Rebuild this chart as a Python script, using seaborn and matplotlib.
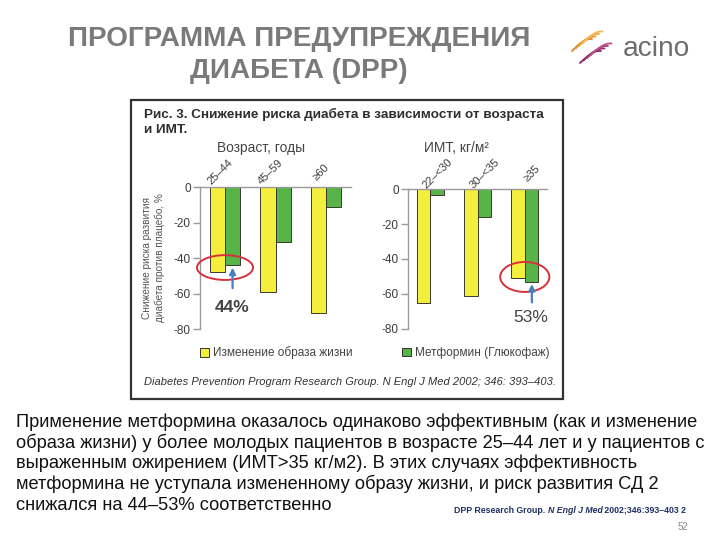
import numpy as np
import pandas as pd
import matplotlib
matplotlib.use("Agg")
import matplotlib.pyplot as plt
import seaborn as sns
from matplotlib.patches import Ellipse, Rectangle, Patch

# ---------------- data ----------------
age_groups = ["25–44", "45–59", "≥60"]
age_lifestyle = [-48, -59, -71]
age_metformin = [-44, -31, -11]

bmi_groups = ["22–<30", "30–<35", "≥35"]
bmi_lifestyle = [-65, -61, -51]
bmi_metformin = [-3, -16, -53]

treatments = ["Изменение образа жизни", "Метформин (Глюкофаж)"]
yticks = [0, -20, -40, -60, -80]
ytick_labels = ["0", "-20", "-40", "-60", "-80"]

body_lines = [
    "Применение метформина оказалось одинаково эффективным (как и изменение",
    "образа жизни) у более молодых пациентов в возрасте 25–44 лет и у пациентов с",
    "выраженным ожирением (ИМТ>35 кг/м2). В этих случаях эффективность",
    "метформина не уступала измененному образу жизни, и риск развития СД 2",
    "снижался на 44–53% соответственно",
]

# ---------------- style ----------------
sns.set_style("white")
FONT = ["Liberation Sans", "DejaVu Sans"]
plt.rcParams["font.family"] = FONT

YELLOW = "#f4ee3c"
GREEN = "#58b446"
EDGE = "#3a3a30"
AXC = "#9a9a9a"
TXT = "#3c3c3c"

W, H = 720, 540
fig = plt.figure(figsize=(W / 100, H / 100), dpi=100)
fig.patch.set_facecolor("white")

ov = fig.add_axes([0, 0, 1, 1], zorder=-1)
ov.set_xlim(0, W)
ov.set_ylim(H, 0)
ov.axis("off")

renderer = fig.canvas.get_renderer()


def fit_w(t, target):
    w = t.get_window_extent(renderer).width
    t.set_fontsize(t.get_fontsize() * target / w)
    return t


def fit_h(t, target):
    h = t.get_window_extent(renderer).height
    t.set_fontsize(t.get_fontsize() * target / h)
    return t


def make_df(groups, a, b):
    return pd.DataFrame({
        "group": groups * 2,
        "value": list(a) + list(b),
        "treatment": [treatments[0]] * len(groups) + [treatments[1]] * len(groups),
    })


def panel(rect, groups, a, b, xlim, width):
    ax = fig.add_axes(rect)
    df = make_df(groups, a, b)
    sns.barplot(data=df, x="group", y="value", hue="treatment",
                palette=[YELLOW, GREEN], saturation=1, width=width,
                edgecolor=EDGE, linewidth=0.7, ax=ax, legend=False,
                errorbar=None)
    ax.set_xlim(*xlim)
    ax.set_ylim(-80, 0)
    ax.set_facecolor("none")
    for s in ["bottom", "right"]:
        ax.spines[s].set_visible(False)
    for s in ["top", "left"]:
        ax.spines[s].set_color(AXC)
        ax.spines[s].set_linewidth(1.0)
    ax.set_xticks([])
    ax.set_xlabel("")
    ax.set_ylabel("")
    ax.set_yticks(yticks)
    ax.set_yticklabels(ytick_labels)
    ax.tick_params(axis="y", length=5, width=1, color=AXC, pad=1.5,
                   labelsize=8.5, labelcolor=TXT, left=True)
    return ax


axL = panel([199.75 / W, 1 - 329 / H, 151.5 / W, 141.7 / H],
            age_groups, age_lifestyle, age_metformin, (-0.5, 2.5), 0.6)
axR = panel([408 / W, 1 - 328.7 / H, 139 / W, 139.4 / H],
            bmi_groups, bmi_lifestyle, bmi_metformin, (-0.47, 2.47), 0.57)

for i, g in enumerate(age_groups):
    axL.text(i - 0.1, 8.5, g, rotation=45, ha="center", va="center",
             fontsize=8, color=TXT, clip_on=False)
for i, g in enumerate(bmi_groups):
    axR.text(i + 0.15, 9.0, g, rotation=45, ha="center", va="center",
             fontsize=8, color=TXT, clip_on=False)

axL.add_patch(Ellipse((0.0, -45.3), 1.11, 14, fill=False, edgecolor="#d8313b",
                      lw=1.4, clip_on=False, zorder=5))
axL.annotate("", xy=(0.15, -43.8), xytext=(0.15, -58.5),
             arrowprops=dict(arrowstyle="-|>", color="#4a7ebf", lw=1.6,
                             mutation_scale=9), annotation_clip=False, zorder=6)
axL.text(0.15, -67.6, "44%", ha="center", va="center", fontsize=12.5,
         fontweight="bold", color="#444444")

axR.add_patch(Ellipse((2.0, -50.3), 1.04, 17.2, fill=False, edgecolor="#d8313b",
                      lw=1.4, clip_on=False, zorder=5))
axR.annotate("", xy=(2.15, -52.8), xytext=(2.15, -66.5),
             arrowprops=dict(arrowstyle="-|>", color="#4a7ebf", lw=1.6,
                             mutation_scale=9), annotation_clip=False, zorder=6)
axR.text(2.12, -73.5, "53%", ha="center", va="center", fontsize=12.5,
         color="#444444")

# ---------------- chart image frame & texts ----------------
ov.add_patch(Rectangle((131, 100), 432, 299, fill=False, edgecolor="#333333", lw=1.6))

t = ov.text(144, 118, "Рис. 3. Снижение риска диабета в зависимости от возраста",
            ha="left", va="baseline", fontweight="bold", color="#2e2e2e", fontsize=9.5)
fit_w(t, 398)
ov.text(144, 133, "и ИМТ.", ha="left", va="baseline", fontweight="bold",
        color="#2e2e2e", fontsize=t.get_fontsize())

th = ov.text(261, 152, "Возраст, годы", ha="center", va="baseline",
             color="#444444", fontsize=9.5)
fit_w(th, 88)
ov.text(456, 152, "ИМТ, кг/м²", ha="center", va="baseline",
        color="#444444", fontsize=th.get_fontsize())

yl1 = ov.text(147, 258, "Снижение риска развития", rotation=90, ha="center",
              va="center", color="#555555", fontsize=7.5)
yl2 = ov.text(160, 258, "диабета против плацебо, %", rotation=90, ha="center",
              va="center", color="#555555", fontsize=7.5)
fit_h(yl2, 128)
yl1.set_fontsize(yl2.get_fontsize())

leg_kw = dict(frameon=False, fontsize=8.5, handlelength=0.75, handleheight=0.75,
              handletextpad=0.35, borderpad=0, borderaxespad=0, loc="center left",
              labelcolor="#444444")
fig.legend(handles=[Patch(facecolor=YELLOW, edgecolor="#333333", lw=0.7)],
           labels=[treatments[0]], bbox_to_anchor=(200 / W, 1 - 353 / H), **leg_kw)
fig.legend(handles=[Patch(facecolor=GREEN, edgecolor="#333333", lw=0.7)],
           labels=[treatments[1]], bbox_to_anchor=(402 / W, 1 - 353 / H), **leg_kw)

tc = ov.text(144, 385, "Diabetes Prevention Program Research Group. N Engl J Med 2002; 346: 393–403.",
             ha="left", va="baseline", style="italic", color="#333333", fontsize=8.5)
fit_w(tc, 406)

# ---------------- slide title ----------------
t1 = ov.text(299, 46, "ПРОГРАММА ПРЕДУПРЕЖДЕНИЯ", ha="center", va="baseline",
             fontweight="bold", color="#7a7a7a", fontsize=21)
fit_w(t1, 462)
ov.text(299, 78, "ДИАБЕТА (DPP)", ha="center", va="baseline",
        fontweight="bold", color="#7a7a7a", fontsize=t1.get_fontsize())

# ---------------- logo ----------------
tl = ov.text(623, 56, "acino", ha="left", va="baseline", color="#6e6e6e", fontsize=19)
fit_w(tl, 67)
s = np.linspace(0, 1, 30)
for k in range(4):
    xo = 572 + 3.5 * k + 20 * s
    yo = 51 - 2.5 * k - 14 * np.sin(s * np.pi / 2) + 2 * s
    ov.plot(xo, yo, color=["#d9822a", "#e6952f", "#eea83f", "#f3bb55"][k],
            lw=1.3, solid_capstyle="round")
    xp = 580 + 3.5 * k + 21 * s
    yp = 63 - 2.5 * k - 14 * np.sin(s * np.pi / 2) + 2 * s
    ov.plot(xp, yp, color=["#86245f", "#962c6c", "#a83a7b", "#ba508c"][k],
            lw=1.3, solid_capstyle="round")

# ---------------- body text ----------------
for i, line in enumerate(body_lines):
    tb = ov.text(16, 427 + 20.7 * i, line, ha="left", va="baseline",
                 color="#111111", fontsize=13.5)
    if i == 0:
        fit_w(tb, 681)
        body_fs = tb.get_fontsize()
    else:
        tb.set_fontsize(body_fs)

# ---------------- footer reference ----------------
NAVY = "#1f2f66"
parts = [("DPP Research Group. ", "normal"), ("N Engl J Med", "italic"),
         (" 2002;346:393–403 2", "normal")]
fs_ref = 7.0
x = 454
objs = []
for txt, st in parts:
    o = ov.text(x, 513, txt, ha="left", va="baseline", color=NAVY,
                fontweight="bold", style=st, fontsize=fs_ref)
    objs.append(o)
    x += o.get_window_extent(renderer).width
scale = 233 / (x - 454)
x = 454
for o in objs:
    o.set_fontsize(fs_ref * scale)
    o.set_x(x)
    x += o.get_window_extent(renderer).width

ov.text(683, 530, "52", ha="center", va="baseline", color="#8a8a8a", fontsize=7)

fig.savefig("out.png", dpi=100, facecolor="white")
